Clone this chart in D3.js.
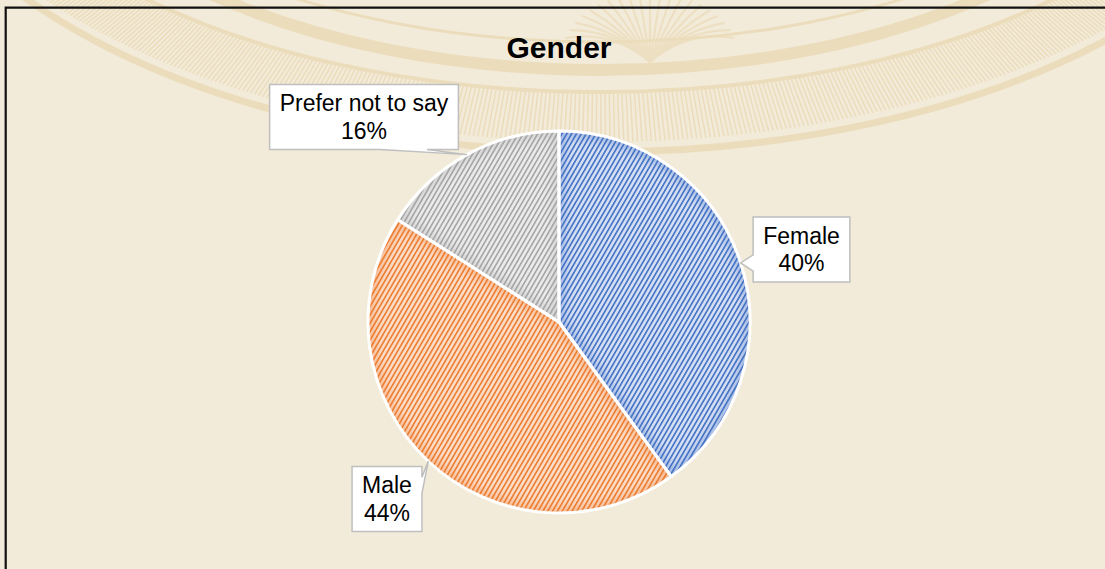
<!DOCTYPE html>
<html>
<head>
<meta charset="utf-8">
<script src="https://cdn.jsdelivr.net/npm/d3@7"></script>
<style>
  html, body { margin: 0; padding: 0; background: #f3ebda; }
  svg { display: block; }
</style>
</head>
<body>
<svg id="chart" width="1105" height="569"></svg>
<script>
// Survey breakdown by gender
const chartTitle = "Gender";
const categories = ["Female", "Male", "Prefer not to say"];
const values = [40, 44, 16];
const lineColors = ["#4472c4", "#ed7d31", "#a5a5a5"];
const paleColors = ["#d5dff3", "#fbdcc7", "#ebebeb"];

const W = 1105, H = 569;
const svg = d3.select("#chart");
const defs = svg.append("defs");

// ---- backdrop -------------------------------------------------------
svg.append("rect").attr("width", W).attr("height", H).attr("fill", "#f3ebda");

// faint seal watermark behind the plot
const wm = svg.append("g").attr("fill", "none").attr("stroke", "#e4cf9f").attr("opacity", 0.5);
const sx = 600, sy = -230;
function ellPt(rx, ry, t) { return [sx + rx * Math.cos(t), sy + ry * Math.sin(t)]; }
wm.selectAll("line.rib")
  .data(d3.range(0.12, Math.PI - 0.12, 0.0065))
  .join("line")
  .attr("x1", t => ellPt(645, 322, t)[0]).attr("y1", t => ellPt(645, 322, t)[1])
  .attr("x2", t => ellPt(705, 372, t)[0]).attr("y2", t => ellPt(705, 372, t)[1])
  .attr("stroke-width", 1.6);
wm.append("ellipse").attr("cx", sx).attr("cy", sy).attr("rx", 645).attr("ry", 322).attr("stroke-width", 4);
wm.append("ellipse").attr("cx", sx).attr("cy", sy).attr("rx", 716).attr("ry", 382).attr("stroke-width", 7);
wm.append("ellipse").attr("cx", sx).attr("cy", sy).attr("rx", 585).attr("ry", 300).attr("stroke-width", 12);
wm.append("ellipse").attr("cx", sx).attr("cy", sy).attr("rx", 560).attr("ry", 272).attr("stroke-width", 3);
// fronds near the top of the seal
const fr = wm.append("g").attr("stroke-width", 2.2).attr("opacity", 0.8);
d3.range(-70, 71, 7).forEach(a => {
  const rad = a * Math.PI / 180;
  fr.append("path").attr("d", `M${650},${62} Q${650 + 40 * Math.sin(rad)},${30} ${650 + 90 * Math.sin(rad)},${62 - 70 * Math.cos(rad)}`);
});

// chart frame (top and left edges visible)
svg.append("path")
  .attr("d", `M5.7,${H} L5.7,7.7 L${W},7.7`)
  .attr("fill", "none").attr("stroke", "#111").attr("stroke-width", 2.2);

// ---- title ----------------------------------------------------------
svg.append("text")
  .attr("x", 559).attr("y", 58)
  .attr("text-anchor", "middle")
  .attr("font-family", "'Liberation Sans', Arial, sans-serif")
  .attr("font-weight", "bold").attr("font-size", 30)
  .attr("fill", "#000")
  .text(chartTitle);

// ---- pie ------------------------------------------------------------
const cx = 559, cy = 322, radius = 191;
const data = categories.map((c, i) => ({ name: c, value: values[i], i }));
const pie = d3.pie().sort(null).value(d => d.value);
const arcs = pie(data);
const arcGen = d3.arc().innerRadius(0).outerRadius(radius);

// hatched fills
const tile = 4.2;
data.forEach(d => {
  const p = defs.append("pattern")
    .attr("id", "hatch" + d.i)
    .attr("patternUnits", "userSpaceOnUse")
    .attr("width", tile).attr("height", tile)
    .attr("patternTransform", "rotate(30)");
  p.append("rect").attr("width", tile).attr("height", tile).attr("fill", paleColors[d.i]);
  p.append("rect").attr("width", 1.6).attr("height", tile).attr("fill", lineColors[d.i]);
});
defs.append("filter").attr("id", "soft").attr("x", "-20%").attr("y", "-20%").attr("width", "140%").attr("height", "140%")
  .append("feGaussianBlur").attr("stdDeviation", 4);

const pg = svg.append("g").attr("transform", `translate(${cx},${cy})`);
arcs.forEach(a => {
  defs.append("clipPath").attr("id", "clip" + a.data.i)
    .attr("transform", `translate(${cx},${cy})`)
    .append("path").attr("d", arcGen(a));
});
pg.selectAll("path.slice")
  .data(arcs)
  .join("path")
  .attr("class", "slice")
  .attr("d", arcGen)
  .attr("fill", a => `url(#hatch${a.data.i})`);
// inner glow along each slice edge
arcs.forEach(a => {
  svg.append("g").attr("clip-path", `url(#clip${a.data.i})`)
    .append("path")
    .attr("transform", `translate(${cx},${cy})`)
    .attr("d", arcGen(a))
    .attr("fill", "none")
    .attr("stroke", lineColors[a.data.i])
    .attr("stroke-width", 12)
    .attr("opacity", 0.35)
    .attr("filter", "url(#soft)");
});
svg.append("g").attr("transform", `translate(${cx},${cy})`)
  .selectAll("path")
  .data(arcs)
  .join("path")
  .attr("d", arcGen)
  .attr("fill", "none")
  .attr("stroke", "#fff")
  .attr("stroke-width", 3)
  .attr("stroke-linejoin", "round");

// ---- callout labels -------------------------------------------------
const labelCentres = [[801.5, 249.5], [387, 499], [364, 117]];
const fontSize = 23, lineH = 27.6, padX = 10, padY = 5;

// rectangular callout with a wedge pointing at (px, py)
function calloutPath(l, t, w, h, px, py) {
  const r = l + w, b = t + h, hc = l + w / 2, vc = t + h / 2;
  const dxPos = px - hc, dyPos = py - vc;
  const dq = dxPos * h / w;
  const dz = Math.abs(dyPos) - Math.abs(dq);
  const xg1 = dxPos > 0 ? 7 : 2, xg2 = dxPos > 0 ? 10 : 5;
  const yg1 = dyPos > 0 ? 7 : 2, yg2 = dyPos > 0 ? 10 : 5;
  const x1 = l + w * xg1 / 12, x2 = l + w * xg2 / 12;
  const y1 = t + h * yg1 / 12, y2 = t + h * yg2 / 12;
  const xl = dz > 0 ? l : (dxPos > 0 ? l : px);
  const xt = dz > 0 ? (dyPos > 0 ? x1 : px) : x1;
  const xr = dz > 0 ? r : (dxPos > 0 ? px : r);
  const xb = dz > 0 ? (dyPos > 0 ? px : x1) : x1;
  const yl = dz > 0 ? y1 : (dxPos > 0 ? y1 : py);
  const yt = dz > 0 ? (dyPos > 0 ? t : py) : t;
  const yr = dz > 0 ? y1 : (dxPos > 0 ? py : y1);
  const yb = dz > 0 ? (dyPos > 0 ? py : b) : b;
  return `M${l},${t} L${x1},${t} L${xt},${yt} L${x2},${t} L${r},${t} L${r},${y1} L${xr},${yr} L${r},${y2} L${r},${b} L${x2},${b} L${xb},${yb} L${x1},${b} L${l},${b} L${l},${y2} L${xl},${yl} L${l},${y1} Z`;
}

const lg = svg.append("g");
arcs.forEach(a => {
  const i = a.data.i;
  const mid = (a.startAngle + a.endAngle) / 2;
  const px = cx + radius * Math.sin(mid), py = cy - radius * Math.cos(mid);
  const pct = Math.round(a.value / d3.sum(values) * 100) + "%";
  const g = lg.append("g");
  const box = g.append("path");
  const txt = g.append("text")
    .attr("font-family", "'Liberation Sans', Arial, sans-serif")
    .attr("font-size", fontSize).attr("fill", "#000")
    .attr("text-anchor", "middle");
  const [bx, by] = labelCentres[i];
  const t1 = txt.append("tspan").attr("x", bx).attr("y", by - lineH / 2 + 8).text(a.data.name);
  const t2 = txt.append("tspan").attr("x", bx).attr("y", by + lineH / 2 + 8).text(pct);
  const tw = Math.max(t1.node().getComputedTextLength(), t2.node().getComputedTextLength());
  const bw = tw + 2 * padX, bh = 2 * lineH + 2 * padY;
  box.attr("d", calloutPath(bx - bw / 2, by - bh / 2, bw, bh, px, py))
    .attr("fill", "#fff").attr("stroke", "#bfbfbf").attr("stroke-width", 1.5)
    .attr("stroke-linejoin", "miter");
});
</script>
</body>
</html>
